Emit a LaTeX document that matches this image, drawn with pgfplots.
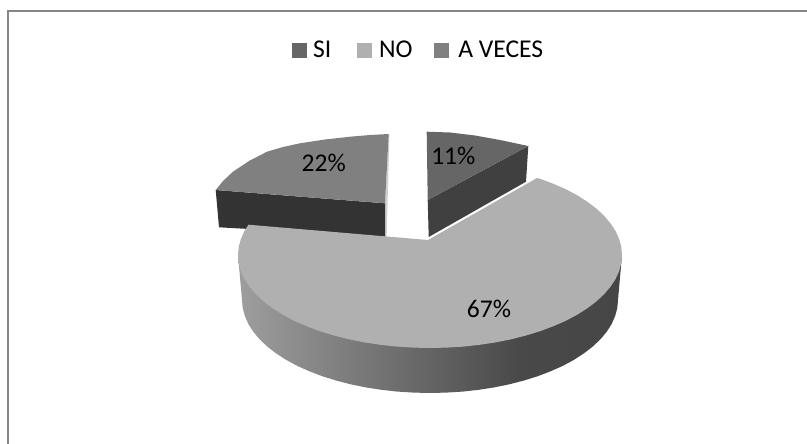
\documentclass[border=0pt]{standalone}
\usepackage{fontspec}
\setmainfont{Carlito}
\usepackage{pgfplots}
\pgfplotsset{compat=1.18}
\definecolor{siTop}{HTML}{666666}
\definecolor{siWall}{HTML}{404040}
\definecolor{noTop}{HTML}{B0B0B0}
\definecolor{avTop}{HTML}{808080}
\definecolor{avWall}{HTML}{333333}
\definecolor{frameC}{HTML}{868686}
\definecolor{avEdge}{HTML}{D0D0D0}
\pgfdeclarehorizontalshading{wallgrad}{100bp}{rgb(0bp)=(0.62,0.62,0.62);rgb(25bp)=(0.62,0.62,0.62);rgb(61.7bp)=(0.285,0.285,0.285);rgb(75bp)=(0.275,0.275,0.275);rgb(100bp)=(0.275,0.275,0.275)}
\begin{document}
\begin{tikzpicture}
\path[use as bounding box] (0,0) rectangle (807bp,444bp);
\begin{axis}[
  at={(0,0)},anchor=south west,
  width=807bp,height=444bp,scale only axis,
  xmin=0,xmax=807,ymin=0,ymax=444,y dir=reverse,
  hide axis,
  clip=true,
  legend columns=3,
  legend style={at={(axis cs:292,50.3)},anchor=west,draw=none,fill=none,font=\fontsize{25.7}{30}\selectfont,
    inner sep=0pt,
    /tikz/column 1/.style={column sep=4bp},
    /tikz/column 2/.style={column sep=24bp},
    /tikz/column 3/.style={column sep=4.7bp},
    /tikz/column 4/.style={column sep=19.5bp},
    /tikz/column 5/.style={column sep=7.2bp}},
  legend image code/.code={\fill[#1] (0bp,-7.5bp) rectangle (15bp,7.5bp);},
]
\addlegendimage{fill=siTop,draw=none}\addlegendentry{SI}
\addlegendimage{fill=noTop,draw=none}\addlegendentry{NO}
\addlegendimage{fill=avTop,draw=none}\addlegendentry{A VECES}
% frame
\addplot[forget plot,frameC,line width=1.7bp] coordinates {(8,450)(8,10.8)(815,10.8)};
% A VECES slice
\addplot[forget plot,draw=none,fill=avEdge] coordinates {(388.7,134)(385,203.3)(385,236.7)(386.6,237)(389.5,134)} -- cycle;
\addplot[forget plot,draw=none,fill=avWall] coordinates {(215.7,190)(385,203.3)(385,236.7)(219,227.3)} -- cycle;
\addplot[forget plot,draw=none,fill=avTop] coordinates {(385,203.3)(215.7,190)(223,181)(233,171.7)(249,161)(267,151.7)(283,147)(300,143.3)(325,139.5)(350,136.7)(370,135)(388.7,134)} -- cycle;
% SI slice
\addplot[forget plot,draw=none,fill=siWall] coordinates {(427.7,200)(528.3,146)(526,181.7)(428.7,237)} -- cycle;
\addplot[forget plot,draw=none,fill=siTop] coordinates {(427.7,200)(426.7,131.7)(450,132.5)(475,135.5)(500,140)(528.3,146)} -- cycle;
% NO wall
\addplot[forget plot,draw=none,shade,shading=wallgrad] coordinates {
(238,255)(622,255)(618,300)(617.3,308.1)(615.1,316.1)(611.6,324.1)(606.7,331.8)(600.4,339.3)(592.8,346.5)(584,353.3)(574,359.8)(562.9,365.8)(550.8,371.2)(537.8,376.2)(524,380.5)(509.4,384.3)(494.3,387.4)(478.7,389.8)(462.6,391.6)(446.4,392.6)(430,393)(413.6,392.6)(397.4,391.6)(381.3,389.8)(365.7,387.4)(350.6,384.3)(336,380.5)(322.2,376.2)(309.2,371.2)(297.1,365.8)(286,359.8)(276,353.3)(267.2,346.5)(259.6,339.3)(253.3,331.8)(248.4,324.1)(244.9,316.1)(242.7,308.1)(242,300)
} -- cycle;
% NO top
\addplot[forget plot,draw=none,fill=noTop] coordinates {
(428,240)(537,178)(540.1,178.8)(553.4,183.8)(565.8,189.2)(577.1,195.2)(587.3,201.7)(596.3,208.5)(604,215.7)(610.4,223.2)(615.5,230.9)(619.1,238.9)(621.3,246.9)(622,255)(621.3,263.1)(619.1,271.1)(615.5,279.1)(610.4,286.8)(604,294.3)(596.3,301.5)(587.3,308.3)(577.1,314.8)(565.8,320.8)(553.4,326.2)(540.1,331.2)(526,335.5)(511.1,339.3)(495.7,342.4)(479.7,344.8)(463.3,346.6)(446.7,347.6)(430,348)(413.3,347.6)(396.7,346.6)(380.3,344.8)(364.3,342.4)(348.9,339.3)(334,335.5)(319.9,331.2)(306.6,326.2)(294.2,320.8)(282.9,314.8)(272.7,308.3)(263.7,301.5)(256,294.3)(249.6,286.8)(244.5,279.1)(240.9,271.1)(238.7,263.1)(238,255)(238.7,246.9)(240.9,238.9)(244.5,230.9)(248.5,224.7)
} -- cycle;
\node[anchor=base,font=\fontsize{25.6}{30}\selectfont,inner sep=0pt] at (axis cs:323.7,171.7) {22\%};
\node[anchor=base,font=\fontsize{25.6}{30}\selectfont,inner sep=0pt] at (axis cs:453.3,164) {11\%};
\node[anchor=base,font=\fontsize{25.6}{30}\selectfont,inner sep=0pt] at (axis cs:489,317) {67\%};
\end{axis}
\end{tikzpicture}
\end{document}
